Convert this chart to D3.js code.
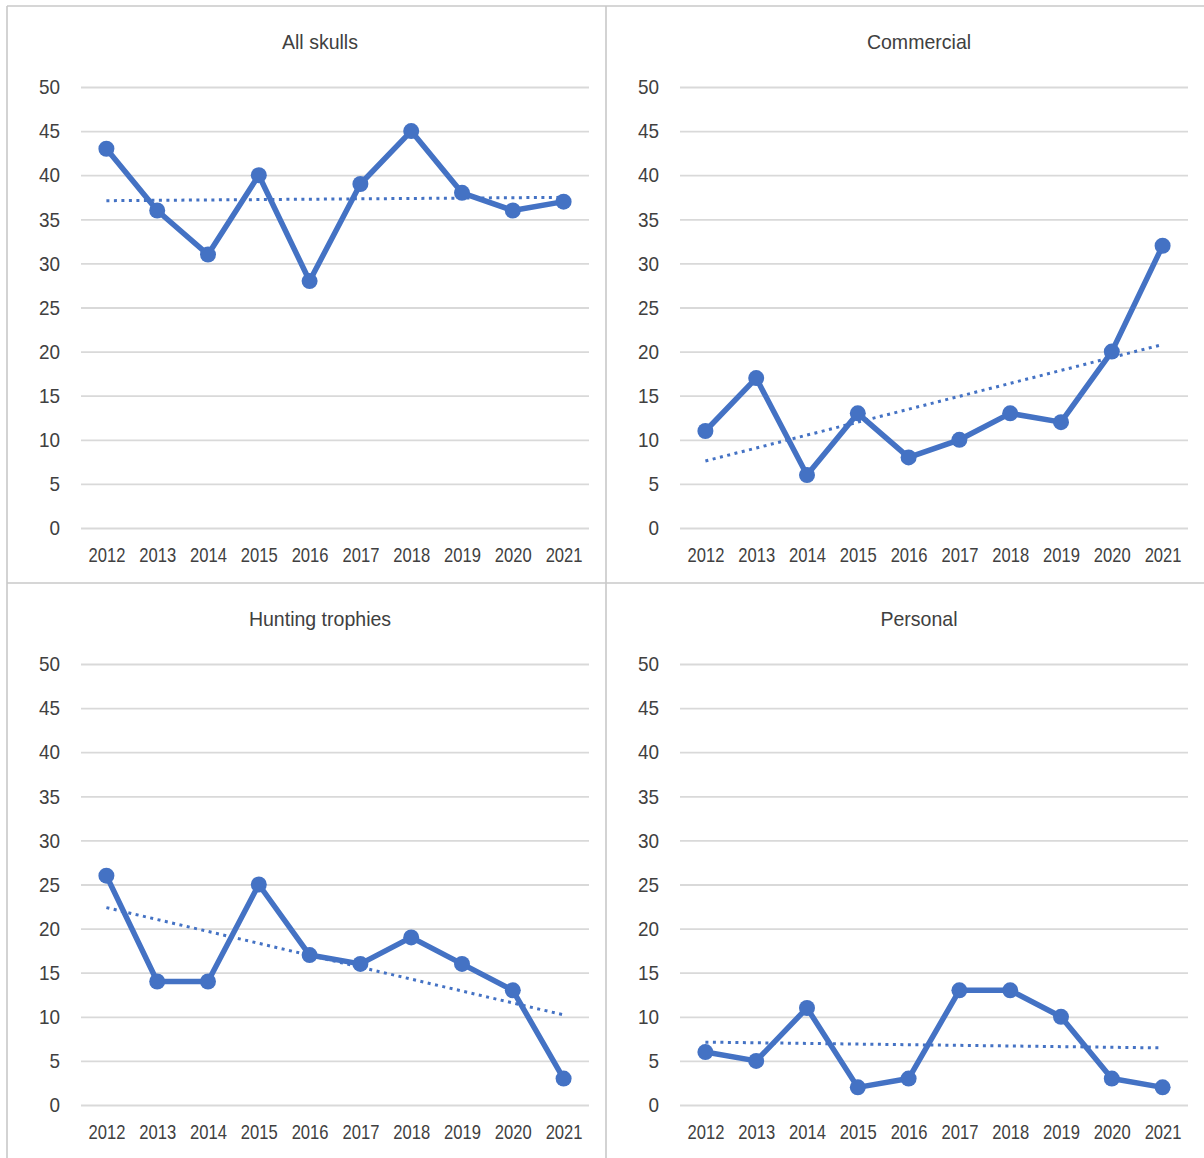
<!DOCTYPE html>
<html>
<head>
<meta charset="utf-8">
<script src="https://cdn.jsdelivr.net/npm/d3@7"></script>
<style>
  html, body { margin: 0; padding: 0; background: #fff; }
  svg { display: block; }
  text { font-family: "Liberation Sans Narrow", "Arial Narrow", "Liberation Sans", Arial, sans-serif; fill: #404040; }
</style>
</head>
<body>
<svg id="chart" width="1204" height="1158"></svg>
<script>
// Years on the category axis
const years = ["2012", "2013", "2014", "2015", "2016", "2017", "2018", "2019", "2020", "2021"];

// Counts per year for each panel
const allSkulls = [43, 36, 31, 40, 28, 39, 45, 38, 36, 37];
const commercial = [11, 17, 6, 13, 8, 10, 13, 12, 20, 32];
const huntingTrophies = [26, 14, 14, 25, 17, 16, 19, 16, 13, 3];
const personal = [6, 5, 11, 2, 3, 13, 13, 10, 3, 2];

// Panel titles and y tick values
const panelTitles = ["All skulls", "Commercial", "Hunting trophies", "Personal"];
const yTicks = [0, 5, 10, 15, 20, 25, 30, 35, 40, 45, 50];

const panelSeries = [allSkulls, commercial, huntingTrophies, personal];

const svg = d3.select("#chart");
const blue = "#4472C4";

// Grid of panels: left edges and top edges
const colX = [7, 606];
const rowY = [6, 583];

// Plot area inside each panel
const plotLeft = 74, plotWidth = 508, plotTop = 81, plotHeight = 441;

const x = d3.scalePoint().domain(years).range([plotLeft, plotLeft + plotWidth]).padding(0.5);
const y = d3.scaleLinear().domain([0, 50]).range([plotTop + plotHeight, plotTop]);

// Least-squares trend over year index
function linearFit(values) {
  const xs = values.map((_, i) => i + 1);
  const mx = d3.mean(xs), my = d3.mean(values);
  let sxy = 0, sxx = 0;
  xs.forEach((xi, i) => { sxy += (xi - mx) * (values[i] - my); sxx += (xi - mx) ** 2; });
  const slope = sxy / sxx;
  const icpt = my - slope * mx;
  return values.map((_, i) => icpt + slope * (i + 1));
}

// Squeeze glyphs horizontally to get a condensed face
function condense(sel, factor) {
  sel.each(function () {
    const w = this.getComputedTextLength();
    d3.select(this).attr("textLength", w * factor).attr("lengthAdjust", "spacingAndGlyphs");
  });
}

panelTitles.forEach((title, k) => {
  const values = panelSeries[k];
  const g = svg.append("g")
    .attr("transform", `translate(${colX[k % 2]},${rowY[Math.floor(k / 2)]})`);

  // Horizontal gridlines and y labels
  const yAxis = g.append("g")
    .attr("transform", `translate(${plotLeft},0)`)
    .call(d3.axisLeft(y).tickValues(yTicks).tickSize(-plotWidth).tickPadding(21));
  yAxis.select(".domain").remove();
  yAxis.selectAll(".tick line").attr("stroke", "#d9d9d9").attr("stroke-width", 1.8);
  yAxis.selectAll(".tick text").attr("font-size", 21).attr("fill", "#404040");
  condense(yAxis.selectAll(".tick text"), 0.9);

  // Year labels
  const xAxis = g.append("g")
    .attr("transform", `translate(0,${plotTop + plotHeight})`)
    .call(d3.axisBottom(x).tickSize(0).tickPadding(19));
  xAxis.select(".domain").remove();
  xAxis.selectAll(".tick text").attr("font-size", 21).attr("fill", "#404040");
  condense(xAxis.selectAll(".tick text"), 0.79);

  // Title
  const t = g.append("text")
    .attr("x", 313)
    .attr("y", 43)
    .attr("text-anchor", "middle")
    .attr("font-size", 21)
    .text(title);
  condense(t, 0.93);

  // Dotted linear trendline
  const trend = linearFit(values);
  g.append("path")
    .datum(trend)
    .attr("fill", "none")
    .attr("stroke", blue)
    .attr("stroke-width", 3)
    .attr("stroke-dasharray", "3,4.5")
    .attr("d", d3.line().x((d, i) => x(years[i])).y(d => y(d)));

  // Data line
  g.append("path")
    .datum(values)
    .attr("fill", "none")
    .attr("stroke", blue)
    .attr("stroke-width", 5.5)
    .attr("stroke-linejoin", "round")
    .attr("d", d3.line().x((d, i) => x(years[i])).y(d => y(d)));

  // Markers
  g.selectAll("circle.pt")
    .data(values)
    .join("circle")
    .attr("class", "pt")
    .attr("cx", (d, i) => x(years[i]))
    .attr("cy", d => y(d))
    .attr("r", 8)
    .attr("fill", blue);
});

// Panel borders
const border = svg.append("g").attr("stroke", "#c8c8c8").attr("stroke-width", 1.6).attr("fill", "none");
border.append("line").attr("x1", 7).attr("x2", 1204).attr("y1", 6).attr("y2", 6);
border.append("line").attr("x1", 7).attr("x2", 7).attr("y1", 6).attr("y2", 1158);
border.append("line").attr("x1", 606).attr("x2", 606).attr("y1", 6).attr("y2", 1158);
border.append("line").attr("x1", 7).attr("x2", 1204).attr("y1", 583).attr("y2", 583);
</script>
</body>
</html>
